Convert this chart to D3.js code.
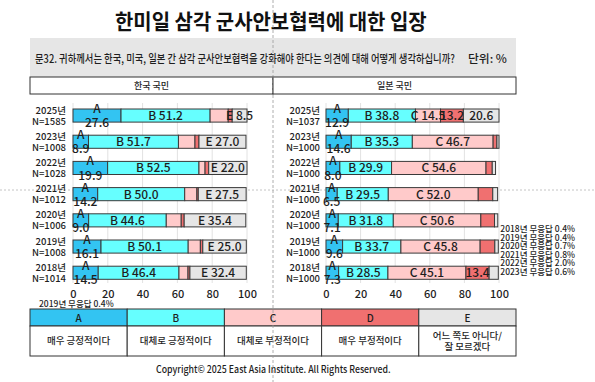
<!DOCTYPE html>
<html><head><meta charset="utf-8">
<script src="https://cdn.jsdelivr.net/npm/d3@7"></script>
<style>
html,body{margin:0;padding:0;background:#fff;}
svg{display:block;font-family:"Noto Sans CJK KR","Noto Sans",sans-serif;}
</style></head>
<body><svg id="c" width="595" height="382"></svg>
<script>
const title = "한미일 삼각 군사안보협력에 대한 입장";
const question = "문32. 귀하께서는 한국, 미국, 일본 간 삼각 군사안보협력을 강화해야 한다는 의견에 대해 어떻게 생각하십니까?";
const unitLabel = "단위: %";
const panelTitles = ["한국 국민", "일본 국민"];
const years = ["2025년","2023년","2022년","2021년","2020년","2019년","2018년"];
const seriesKeys = ["A","B","C","D","E"];
const seriesDesc = ["매우 긍정적이다","대체로 긍정적이다","대체로 부정적이다","매우 부정적이다","어느 쪽도 아니다/|잘 모르겠다"];

const koreaN = [1585,1008,1028,1012,1006,1008,1014];
const koreaA = [27.6,8.9,19.9,14.2,9.0,16.1,14.5];
const koreaB = [51.2,51.7,52.5,50.0,44.6,50.1,46.4];
const koreaC = [10.4,9.5,3.5,7.0,8.6,7.0,5.2];
const koreaD = [2.3,2.3,2.1,0.8,1.7,1.4,1.1];
const koreaE = [8.5,27.0,22.0,27.5,35.4,25.0,32.4];

const japanN = [1037,1000,1000,1000,1000,1000,1000];
const japanA = [12.9,14.6,8.0,6.5,7.1,9.6,7.3];
const japanB = [38.8,35.3,29.9,29.5,31.8,33.7,28.5];
const japanC = [14.5,46.7,54.6,52.0,50.6,45.8,45.1];
const japanD = [13.2,2.2,3.6,8.4,7.9,8.5,13.4];
const japanE = [20.6,1.2,1.9,2.8,1.9,2.0,5.3];

const xTicks = [0,20,40,60,80,100];
const koreaNote = "2019년 무응답 0.4%";
const japanNotes = ["2018년 무응답 0.4%","2019년 무응답 0.4%","2020년 무응답 0.7%","2021년 무응답 0.8%","2022년 무응답 2.0%","2023년 무응답 0.6%"];
const copyright = "Copyright© 2025 East Asia Institute. All Rights Reserved.";

const colors = {A:"#33C4F2",B:"#66FFFF",C:"#FFCACA",D:"#F07070",E:"#E6E6E6"};
const ink = "#1e1e1e";

const svg = d3.select("#c");
svg.append("rect").attr("width",595).attr("height",382).attr("fill","#fff");

// place a text so that it spans [x0, x0+width] by horizontal scaling
function fitText(parent, str, x0, yb, width, size, weight){
  const t = parent.append("text").attr("x",0).attr("y",0)
    .attr("font-size",size).attr("font-weight",weight).attr("fill",ink).text(str);
  const w = t.node().getComputedTextLength() || width;
  t.attr("transform",`translate(${x0},${yb}) scale(${width/w},1)`);
  return t;
}

// crosshair dashed line (background)
svg.append("line").attr("x1",0).attr("x2",595).attr("y1",190).attr("y2",190)
  .attr("stroke","#c4c4c4").attr("stroke-dasharray","2,2").attr("stroke-width",1);

// title
fitText(svg, title, 115, 29, 312, 21, 700).attr("fill","#111");

// question band
svg.append("rect").attr("x",30).attr("y",38).attr("width",486).attr("height",39).attr("fill","#E6E6E6");
fitText(svg, question, 35, 62.5, 420, 11.5, 500);
fitText(svg, unitLabel, 468, 62.5, 39, 11.5, 500);

// header boxes
[[30,273],[273,516]].forEach((b,i)=>{
  svg.append("rect").attr("x",b[0]).attr("y",77).attr("width",b[1]-b[0]).attr("height",17)
    .attr("fill","#fff").attr("stroke","#333").attr("stroke-width",1);
  svg.append("text").attr("x",(b[0]+b[1])/2).attr("y",89).attr("text-anchor","middle")
    .attr("font-size",9).attr("font-weight",500).attr("fill",ink).text(panelTitles[i]);
});

const y = d3.scaleBand().domain(years).range([102.45,285.85]).paddingInner(0.5).paddingOuter(0.25);

function panel(x0,x1,N,A,B,C,D,E,thr,labelX){
  const x = d3.scaleLinear().domain([0,100]).range([x0,x1]);
  const g = svg.append("g");
  g.selectAll(".grid").data(xTicks).join("line")
    .attr("x1",d=>x(d)).attr("x2",d=>x(d)).attr("y1",103).attr("y2",283)
    .attr("stroke","#e2e2e2").attr("stroke-width",1);
  const ax = g.append("g").attr("transform","translate(0,283)")
    .call(d3.axisBottom(x).tickValues(xTicks).tickSize(0).tickPadding(7));
  ax.select(".domain").remove();
  ax.selectAll("text").attr("font-size",11).attr("font-weight",500).attr("fill",ink)
    .attr("font-family",'"Noto Sans CJK KR","Noto Sans",sans-serif');
  const vals = {A,B,C,D,E};
  years.forEach((yr,i)=>{
    const by = y(yr), bh = y.bandwidth();
    let cum = 0;
    seriesKeys.forEach(k=>{
      const v = vals[k][i];
      const sx = x(cum), ex = x(cum+v);
      g.append("rect").attr("x",sx).attr("y",by).attr("width",ex-sx).attr("height",bh)
        .attr("fill",colors[k]).attr("stroke","#3a3a3a").attr("stroke-width",1);
      cum += v;
    });
    cum = 0;
    seriesKeys.forEach(k=>{
      const v = vals[k][i];
      const cx = x(cum + v/2);
      cum += v;
      if (k==="A"){
        g.append("text").attr("x",cx).attr("y",by+4).attr("text-anchor","middle")
          .attr("font-size",12).attr("font-weight",500).attr("fill",ink).text("A");
        g.append("text").attr("x",cx).attr("y",by+bh+5).attr("text-anchor","middle")
          .attr("font-size",12).attr("font-weight",500).attr("fill",ink).text(v.toFixed(1));
      } else if (v >= thr[k].min){
        g.append("text").attr("x",cx).attr("y",by+bh/2+4.5).attr("text-anchor","middle")
          .attr("font-size",12).attr("font-weight",500).attr("fill",ink).text(thr[k].prefix + v.toFixed(1));
      }
    });
    g.append("text").attr("x",labelX).attr("y",by+4.5).attr("text-anchor","end")
      .attr("font-size",9.5).attr("font-weight",500).attr("fill",ink).text(yr);
    g.append("text").attr("x",labelX).attr("y",by+bh+2.5).attr("text-anchor","end")
      .attr("font-size",9.5).attr("font-weight",500).attr("fill",ink).text("N=" + N[i]);
  });
}

panel(73,247,koreaN,koreaA,koreaB,koreaC,koreaD,koreaE,
  {B:{min:0,prefix:"B "},C:{min:Infinity,prefix:""},D:{min:Infinity,prefix:""},E:{min:0,prefix:"E "}},66);
panel(326,499,japanN,japanA,japanB,japanC,japanD,japanE,
  {B:{min:0,prefix:"B "},C:{min:0,prefix:"C "},D:{min:10,prefix:""},E:{min:10,prefix:""}},320);

// notes
svg.append("text").attr("x",39).attr("y",307).attr("font-size",8.5).attr("font-weight",500).attr("fill",ink).text(koreaNote);
svg.selectAll(".jn").data(japanNotes).join("text")
  .attr("x",575).attr("y",(d,i)=>232+i*8.6).attr("text-anchor","end")
  .attr("font-size",8.5).attr("font-weight",500).attr("fill",ink).text(d=>d);

// legend table
const lx = d3.scaleBand().domain(seriesKeys).range([30,516]);
const lg = svg.append("g");
seriesKeys.forEach((k,i)=>{
  const x0 = lx(k), w = lx.bandwidth();
  lg.append("rect").attr("x",x0).attr("y",309).attr("width",w).attr("height",17)
    .attr("fill",colors[k]).attr("stroke","#333").attr("stroke-width",1);
  lg.append("rect").attr("x",x0).attr("y",326).attr("width",w).attr("height",30)
    .attr("fill","#fff").attr("stroke","#333").attr("stroke-width",1);
  lg.append("text").attr("x",x0+w/2).attr("y",321.5).attr("text-anchor","middle")
    .attr("font-size",10).attr("font-weight",500).attr("fill",ink).text(k);
  const lines = seriesDesc[i].split("|");
  lines.forEach((ln,j)=>{
    lg.append("text").attr("x",x0+w/2).attr("y",344 + (j - (lines.length-1)/2)*11)
      .attr("text-anchor","middle").attr("font-size",9.5).attr("font-weight",500).attr("fill",ink).text(ln);
  });
});

fitText(svg, copyright, 156, 373, 235, 10, 500);

// vertical dashed line (on top)
svg.append("line").attr("x1",273).attr("x2",273).attr("y1",0).attr("y2",382)
  .attr("stroke","#999").attr("stroke-dasharray","3,2").attr("stroke-width",0.8);
</script></body></html>
